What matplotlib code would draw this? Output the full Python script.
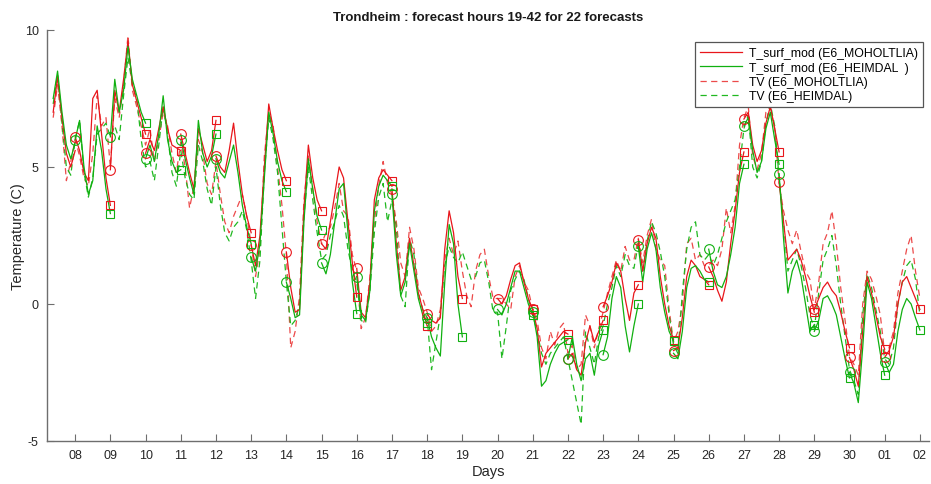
import numpy as np
import matplotlib
matplotlib.use("Agg")
import matplotlib.pyplot as plt

plt.rcParams['font.family'] = ['Liberation Sans', 'DejaVu Sans']

# ---------------------------------------------------------------------------
# Forecasts: each covers one day (hours 19-42), sampled every 3 hours.
# The first forecast is partial and starts at day 7, 09 h.
# ---------------------------------------------------------------------------
forecast_days = [7, 8, 9, 10, 11, 12, 13, 14, 15, 16, 17, 18,
                 20, 21, 22, 23, 24, 25, 26, 27, 28, 29, 30, 31]

# Model road-surface temperature, E6 Moholtlia (one row per forecast)
tsurf_moholtlia = [
    [7.0, 8.3, 6.8, 5.5, 5.0, 5.6],
    [6.1, 5.6, 4.8, 4.5, 7.5, 7.8, 6.2, 4.6, 3.6],
    [4.9, 7.8, 7.0, 8.2, 9.6, 8.0, 7.4, 6.8, 6.2],
    [5.5, 6.0, 5.6, 6.4, 7.2, 6.4, 5.8, 5.7, 5.6],
    [6.2, 5.5, 4.8, 4.2, 6.4, 5.8, 5.2, 5.6, 6.7],
    [5.4, 5.0, 4.8, 5.6, 6.6, 5.2, 4.0, 3.2, 2.6],
    [2.15, 1.4, 2.5, 5.0, 7.3, 6.4, 5.6, 4.9, 4.5],
    [1.9, 0.6, -0.3, -0.2, 3.5, 5.8, 4.6, 3.8, 3.4],
    [2.2, 2.0, 3.0, 4.0, 5.0, 4.6, 3.0, 1.5, 0.25],
    [1.3, -0.3, -0.5, 0.8, 3.8, 4.6, 4.9, 4.7, 4.5],
    [4.2, 2.2, 0.5, 1.0, 2.4, 1.4, 0.4, -0.2, -0.8],
    [-0.35, -0.6, -0.7, -0.5, 2.0, 3.4, 2.6, 1.0, 0.2],
    [0.2, 0.0, 0.3, 0.9, 1.4, 1.5, 0.8, 0.2, -0.2],
    [-0.2, -0.9, -2.3, -1.8, -1.6, -1.4, -1.2, -1.0, -1.1],
    [-2.0, -1.8, -2.4, -2.6, -1.4, -0.8, -1.4, -1.0, -0.6],
    [-0.1, 0.3, 0.8, 1.5, 1.2, 0.2, -0.6, 0.4, 0.7],
    [2.35, 1.2, 2.2, 2.8, 2.4, 1.0, 0.0, -0.8, -1.3],
    [-1.7, -1.6, -0.5, 1.0, 1.6, 1.4, 1.0, 0.9, 0.7],
    [1.35, 1.0, 0.5, 0.1, 0.8, 2.2, 3.4, 4.8, 5.55],
    [6.75, 7.0, 5.8, 5.2, 5.6, 6.6, 7.2, 6.4, 5.55],
    [4.45, 3.0, 1.6, 1.8, 2.0, 1.6, 1.0, 0.3, -0.3],
    [-0.2, 0.2, 0.6, 0.8, 0.5, 0.3, -0.3, -1.0, -1.6],
    [-1.95, -2.4, -3.0, -1.0, 1.0, 0.4, -0.4, -1.2, -1.65],
    [-1.95, -1.7, -1.2, 0.0, 0.8, 1.0, 0.6, 0.2, -0.2],
]

# Model road-surface temperature, E6 Heimdal
tsurf_heimdal = [
    [7.5, 8.5, 7.0, 5.8, 5.3, 5.9],
    [6.0, 6.7, 5.0, 4.0, 4.5, 6.5, 5.6, 4.2, 3.3],
    [6.1, 8.2, 7.0, 7.8, 9.4, 8.2, 7.6, 7.0, 6.6],
    [5.3, 5.8, 5.2, 6.2, 7.6, 6.0, 5.2, 4.8, 4.9],
    [6.0, 5.3, 4.6, 4.0, 6.7, 5.5, 5.0, 5.4, 6.2],
    [5.3, 4.8, 4.6, 5.2, 5.8, 4.8, 3.6, 2.8, 2.2],
    [1.7, 1.2, 2.2, 4.6, 7.0, 6.2, 5.2, 4.5, 4.1],
    [0.8, 0.2, -0.5, -0.4, 3.0, 5.3, 4.2, 3.2, 2.7],
    [1.5, 1.1, 1.8, 3.0, 4.2, 4.4, 2.6, 0.8, -0.35],
    [1.0, -0.4, -0.6, 0.5, 3.4, 4.3, 4.7, 4.5, 4.3],
    [4.0, 1.8, 0.3, 0.8, 2.2, 1.2, 0.2, -0.4, -0.7],
    [-0.5, -1.2, -1.6, -1.9, 0.8, 2.9, 2.2, 0.0, -1.2],
    [-0.2, -0.4, 0.0, 0.6, 1.2, 1.2, 0.6, 0.0, -0.4],
    [-0.3, -1.2, -3.0, -2.8, -2.2, -1.8, -1.5, -1.4, -1.3],
    [-2.0, -1.2, -2.2, -2.8, -2.0, -1.8, -2.6, -1.5, -0.95],
    [-1.85, -1.2, 0.2, 1.0, 0.6, -0.8, -1.75, -0.8, 0.0],
    [2.1, 0.8, 2.0, 2.6, 2.0, 0.6, -0.3, -1.0, -1.35],
    [-1.8, -2.0, -1.0, 0.6, 1.3, 1.4, 1.2, 0.9, 0.8],
    [2.0, 1.2, 0.7, 0.6, 1.0, 1.8, 2.8, 4.4, 5.1],
    [6.5, 6.8, 5.6, 4.8, 5.2, 6.4, 7.0, 6.0, 5.1],
    [4.75, 2.4, 0.4, 1.2, 1.6, 1.0, 0.0, -1.0, -0.75],
    [-1.0, -0.6, 0.2, 0.3, 0.0, -0.4, -1.2, -2.0, -2.7],
    [-2.5, -2.9, -3.6, -1.6, 0.8, 0.2, -0.8, -1.8, -2.6],
    [-2.1, -2.5, -2.2, -1.0, -0.2, 0.2, 0.0, -0.5, -0.95],
]

# Observed air temperature (TV), one row per calendar day, 3-hourly from
# 00 h (day 7 starts at 09 h); final value is day 32, 00 h.
tv_days = list(range(7, 32))
tv_moholtlia = [
    [6.8, 8.0, 6.5, 4.5, 5.2],
    [6.0, 5.4, 4.6, 4.3, 5.5, 7.6, 6.5, 6.8],
    [5.0, 7.5, 6.8, 8.0, 9.8, 7.8, 7.2, 6.5],
    [5.8, 6.4, 5.2, 6.0, 7.0, 6.5, 5.5, 4.8],
    [5.9, 5.0, 3.5, 4.3, 6.0, 5.5, 4.4, 4.0],
    [5.2, 4.0, 3.0, 2.6, 3.2, 3.6, 4.0, 3.2],
    [2.2, 1.0, 2.0, 5.4, 7.0, 6.5, 5.0, 3.6],
    [1.8, -1.6, -1.0, 0.3, 3.8, 5.4, 4.2, 3.0],
    [2.2, 2.6, 2.8, 3.5, 4.4, 3.4, 3.2, 1.8],
    [1.2, -0.9, -0.5, 1.0, 3.0, 4.3, 5.2, 4.4],
    [4.0, 3.0, 1.5, 1.0, 2.8, 2.0, 0.6, 0.2],
    [-0.3, -1.0, -0.8, -0.2, 1.6, 2.4, 1.8, 2.3],
    [1.2, 0.3, -0.1, 1.2, 1.8, 2.0, 1.0, 0.2],
    [0.2, 0.2, 0.0, -0.2, 1.0, 1.4, 0.8, 0.5],
    [-0.2, -0.6, -1.6, -2.0, -1.0, -1.5, -0.9, -0.7],
    [-1.8, -1.5, -2.4, -2.2, -0.4, -0.8, -1.6, -0.9],
    [-0.3, 0.4, 1.0, 1.6, 1.2, 2.1, 1.6, 1.6],
    [2.4, 1.5, 2.5, 3.1, 2.0, 1.6, 1.4, -0.2],
    [-1.4, -1.0, 0.0, 2.2, 2.4, 1.6, 1.8, 1.4],
    [1.4, 1.6, 1.4, 2.0, 3.5, 2.6, 3.6, 5.8],
    [6.8, 7.2, 5.4, 4.9, 5.5, 7.0, 7.2, 6.4],
    [4.4, 3.4, 2.7, 2.2, 2.7, 1.9, 1.2, 0.9],
    [-0.2, 0.8, 2.2, 2.6, 3.4, 2.2, 0.6, -0.6],
    [-1.9, -2.2, -2.6, 0.0, 1.2, 0.9, 0.3, -0.4],
    [-1.8, -1.6, -1.0, 0.4, 1.2, 2.0, 2.5, 1.2],
]
tv_moholtlia_last = 0.2

tv_heimdal = [
    [7.3, 8.4, 6.6, 5.0, 4.7],
    [6.0, 6.7, 4.8, 3.9, 4.6, 6.2, 6.4, 6.6],
    [6.1, 6.5, 6.0, 7.6, 9.0, 8.0, 7.5, 6.0],
    [5.0, 5.2, 4.5, 5.8, 7.2, 6.2, 4.8, 4.3],
    [5.6, 4.6, 4.0, 3.8, 5.8, 5.2, 4.2, 3.6],
    [5.0, 3.6, 2.6, 2.3, 2.8, 3.0, 3.4, 2.7],
    [1.6, 0.2, 1.6, 4.8, 6.8, 6.0, 4.8, 2.8],
    [0.8, -0.8, -0.6, 0.0, 3.2, 5.0, 3.8, 2.6],
    [1.6, 1.8, 2.5, 3.0, 3.6, 3.2, 2.0, 1.2],
    [0.8, -0.6, -0.7, 0.5, 2.6, 3.9, 4.4, 3.0],
    [3.8, 2.8, 0.3, -0.1, 2.4, 1.8, 0.4, -0.2],
    [-0.5, -2.4, -1.4, -0.4, 1.4, 2.1, 1.7, 1.5],
    [1.9, 1.4, 0.9, 1.0, 1.5, 1.6, 0.8, -0.3],
    [-0.3, -2.0, -0.8, 0.5, 0.9, 1.2, 0.9, 0.2],
    [-0.4, -1.0, -1.8, -2.2, -1.8, -1.6, -1.4, -1.2],
    [-2.0, -2.8, -3.6, -4.4, -1.0, -1.6, -2.2, -1.2],
    [-0.8, 0.0, 0.6, 1.4, 1.0, 1.8, 1.4, 1.3],
    [2.2, 1.2, 2.3, 3.0, 2.6, 1.9, 1.0, -0.4],
    [-1.5, -1.8, 0.4, 2.0, 2.8, 3.0, 1.8, 1.6],
    [1.8, 1.4, 1.8, 2.4, 3.0, 3.4, 3.8, 5.0],
    [6.4, 6.9, 5.0, 4.6, 5.2, 6.6, 7.3, 6.5],
    [4.6, 3.0, 1.2, 1.6, 2.0, 1.4, 0.6, -0.4],
    [-0.9, 0.4, 1.6, 2.0, 2.5, 1.4, 0.0, -1.2],
    [-2.4, -2.8, -3.3, -0.4, 1.1, 0.6, -0.2, -1.0],
    [-2.0, -2.2, -1.6, 0.0, 0.8, 1.4, 1.6, 0.9],
]
tv_heimdal_last = -0.4

tick_days = list(range(8, 33))
tick_labels = ['08', '09', '10', '11', '12', '13', '14', '15', '16', '17',
               '18', '19', '20', '21', '22', '23', '24', '25', '26', '27',
               '28', '29', '30', '01', '02']

labels = ['T_surf_mod (E6_MOHOLTLIA)', 'T_surf_mod (E6_HEIMDAL  )',
          'TV (E6_MOHOLTLIA)', 'TV (E6_HEIMDAL)']

RED = '#e8161b'
GREEN = '#10b010'
RED_OBS = '#ec4a4a'
GREEN_OBS = '#20b820'
STEP = 3.0 / 24.0


def forecast_times(day, n):
    """Sample times of one forecast segment ending at day + 1."""
    end = day + 1.0
    return end - STEP * np.arange(n)[::-1]


def model_track(rows):
    xs, ys = [], []
    for day, row in zip(forecast_days, rows):
        xs.extend(forecast_times(day, len(row)))
        ys.extend(row)
        xs.append(np.nan)
        ys.append(np.nan)
    return np.array(xs), np.array(ys)


def obs_track(rows, last):
    xs, ys = [], []
    for day, row in zip(tv_days, rows):
        start = day + 1.0 - STEP * 8
        xs.extend(start + STEP * np.arange(8)[8 - len(row):])
        ys.extend(row)
    xs.append(tv_days[-1] + 1.0)
    ys.append(last)
    return np.array(xs), np.array(ys)


fig = plt.figure(figsize=(9.31, 4.85), dpi=100)
ax = fig.add_axes([0.0505, 0.0887, 0.9474, 0.8474])

x_mr, y_mr = model_track(tsurf_moholtlia)
x_mg, y_mg = model_track(tsurf_heimdal)
x_or, y_or = obs_track(tv_moholtlia, tv_moholtlia_last)
x_og, y_og = obs_track(tv_heimdal, tv_heimdal_last)

l1, = ax.plot(x_mr, y_mr, color=RED, lw=0.9, zorder=3)
l2, = ax.plot(x_mg, y_mg, color=GREEN, lw=0.9, zorder=3)
l3, = ax.plot(x_or, y_or, color=RED_OBS, lw=0.9, dashes=(5, 3.5), zorder=2)
l4, = ax.plot(x_og, y_og, color=GREEN_OBS, lw=0.9, dashes=(5, 3.5), zorder=2)

# Start (circle) and end (square) of every full forecast
for rows, col in ((tsurf_moholtlia, RED), (tsurf_heimdal, GREEN)):
    for day, row in zip(forecast_days, rows):
        if len(row) < 9:
            continue
        ax.plot([day], [row[0]], 'o', mfc='none', mec=col, ms=7, mew=0.8,
                zorder=4)
        ax.plot([day + 1.0], [row[-1]], 's', mfc='none', mec=col, ms=6,
                mew=0.8, zorder=4)

ax.set_xlim(7.2, 32.26)
ax.set_ylim(-5, 10)
ax.set_xticks(tick_days)
ax.set_xticklabels(tick_labels)
ax.set_yticks([-5, 0, 5, 10])
ax.set_yticklabels(['-5', '0', '5', '10'])

for side in ('top', 'right'):
    ax.spines[side].set_visible(False)
for side in ('left', 'bottom'):
    ax.spines[side].set_color('#6e6e6e')
    ax.spines[side].set_linewidth(1.0)
ax.tick_params(direction='in', length=5, width=0.8, colors='#6e6e6e',
               labelcolor='#262626', labelsize=9, pad=6)

ax.set_xlabel('Days', fontsize=10.5, color='#262626', labelpad=2)
ax.set_ylabel('Temperature (C)', fontsize=10.5, color='#262626', labelpad=0)
ax.set_title('Trondheim : forecast hours 19-42 for 22 forecasts',
             fontsize=9.5, fontweight='bold', color='#1a1a1a', pad=7)

leg = ax.legend([l1, l2, l3, l4], labels, loc='upper right',
                bbox_to_anchor=(1.0, 0.985), fontsize=8.8, handlelength=3.4,
                fancybox=False, framealpha=1, edgecolor='#555555',
                borderpad=0.4, labelspacing=0.2, handletextpad=0.6)
leg.get_frame().set_linewidth(0.9)

fig.savefig('out.png', dpi=100)
